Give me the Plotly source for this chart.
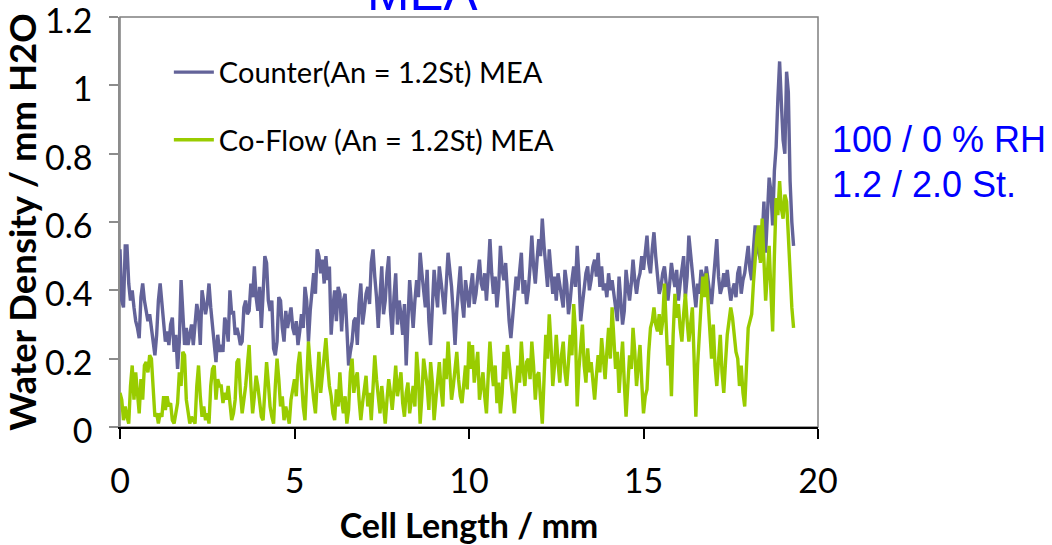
import plotly.graph_objects as go

x_start = 0.0
x_step = 0.05

counter = [
    # 0 - 3.35 mm
    0.52, 0.37, 0.35, 0.53, 0.53, 0.42, 0.37, 0.40, 0.35, 0.31, 0.29, 0.26, 0.38, 0.42, 0.37, 0.34, 0.31,
    0.33, 0.29, 0.25, 0.21, 0.27, 0.37, 0.42, 0.36, 0.29, 0.25, 0.28, 0.24, 0.30, 0.32, 0.22, 0.27, 0.17,
    0.25, 0.43, 0.34, 0.24, 0.29, 0.24, 0.27, 0.30, 0.24, 0.31, 0.36, 0.33, 0.24, 0.40, 0.37, 0.33, 0.36,
    0.42, 0.35, 0.29, 0.25, 0.19, 0.27, 0.22, 0.24, 0.22, 0.32, 0.30, 0.25, 0.40, 0.33, 0.34, 0.27, 0.29,
    # 3.4 - 6.75 mm
    0.27, 0.24, 0.25, 0.35, 0.37, 0.33, 0.34, 0.42, 0.38, 0.47, 0.38, 0.34, 0.41, 0.29, 0.39, 0.50, 0.48,
    0.37, 0.34, 0.37, 0.23, 0.21, 0.25, 0.38, 0.37, 0.29, 0.25, 0.34, 0.29, 0.32, 0.35, 0.29, 0.27, 0.31,
    0.24, 0.28, 0.33, 0.29, 0.41, 0.37, 0.25, 0.34, 0.40, 0.45, 0.39, 0.52, 0.50, 0.45, 0.49, 0.42, 0.50,
    0.43, 0.47, 0.27, 0.35, 0.40, 0.31, 0.41, 0.39, 0.28, 0.37, 0.39, 0.29, 0.18, 0.22, 0.25, 0.31, 0.32,
    # 6.8 - 10.05 mm
    0.24, 0.36, 0.42, 0.30, 0.34, 0.39, 0.41, 0.36, 0.48, 0.52, 0.44, 0.38, 0.29, 0.40, 0.47, 0.33, 0.37,
    0.45, 0.50, 0.34, 0.27, 0.38, 0.45, 0.30, 0.37, 0.33, 0.27, 0.36, 0.18, 0.31, 0.43, 0.36, 0.29, 0.37,
    0.43, 0.38, 0.51, 0.45, 0.40, 0.35, 0.46, 0.31, 0.24, 0.38, 0.46, 0.40, 0.35, 0.47, 0.43, 0.38, 0.33,
    0.44, 0.51, 0.46, 0.41, 0.33, 0.24, 0.34, 0.42, 0.47, 0.37, 0.32, 0.43, 0.38, 0.35, 0.41,
    # 10.1 - 13.45 mm
    0.45, 0.36, 0.39, 0.44, 0.49, 0.42, 0.40, 0.45, 0.37, 0.45, 0.55, 0.45, 0.39, 0.44, 0.35, 0.41, 0.53,
    0.46, 0.43, 0.48, 0.37, 0.31, 0.26, 0.32, 0.37, 0.44, 0.40, 0.46, 0.51, 0.39, 0.43, 0.36, 0.40, 0.47,
    0.56, 0.47, 0.42, 0.49, 0.55, 0.50, 0.61, 0.53, 0.47, 0.41, 0.52, 0.46, 0.39, 0.44, 0.37, 0.45, 0.42,
    0.38, 0.35, 0.46, 0.42, 0.33, 0.37, 0.43, 0.47, 0.41, 0.53, 0.44, 0.31, 0.36, 0.41, 0.45, 0.47, 0.40,
    # 13.5 - 16.75 mm
    0.43, 0.47, 0.49, 0.44, 0.51, 0.41, 0.47, 0.40, 0.42, 0.38, 0.45, 0.40, 0.43, 0.39, 0.35, 0.31, 0.44,
    0.38, 0.30, 0.34, 0.46, 0.41, 0.37, 0.42, 0.49, 0.43, 0.39, 0.43, 0.45, 0.50, 0.46, 0.51, 0.56, 0.48,
    0.45, 0.52, 0.57, 0.50, 0.44, 0.39, 0.41, 0.45, 0.47, 0.42, 0.37, 0.42, 0.48, 0.44, 0.41, 0.46, 0.37,
    0.42, 0.46, 0.50, 0.38, 0.44, 0.56, 0.50, 0.45, 0.40, 0.35, 0.42, 0.39, 0.46, 0.44, 0.41,
    # 16.8 - 19.3 mm
    0.47, 0.42, 0.39, 0.36, 0.43, 0.48, 0.55, 0.44, 0.39, 0.41, 0.45, 0.41, 0.46, 0.41, 0.37, 0.40, 0.42,
    0.38, 0.45, 0.47, 0.39, 0.43, 0.45, 0.49, 0.53, 0.46, 0.43, 0.52, 0.59, 0.55, 0.51, 0.49, 0.55, 0.66,
    0.51, 0.62, 0.73, 0.69, 0.59, 0.75, 0.82, 0.96, 1.07, 0.95, 0.84, 0.80, 1.04, 0.98, 0.72, 0.60, 0.53,
]

coflow = [
    # 0 - 3.35 mm
    0.10, 0.08, 0.02, 0.06, 0.03, 0.01, 0.12, 0.18, 0.08, 0.16, 0.10, 0.04, 0.14, 0.08, 0.18, 0.19, 0.16,
    0.21, 0.20, 0.12, 0.03, 0.04, 0.01, 0.04, 0.03, 0.09, 0.05, 0.09, 0.06, 0.07, 0.02, 0.01, 0.04, 0.07,
    0.16, 0.12, 0.22, 0.21, 0.08, 0.04, 0.01, 0.03, 0.02, 0.01, 0.12, 0.18, 0.09, 0.03, 0.06, 0.02, 0.04,
    0.01, 0.12, 0.17, 0.18, 0.08, 0.14, 0.12, 0.12, 0.07, 0.10, 0.08, 0.12, 0.06, 0.02, 0.04, 0.08, 0.19,
    # 3.4 - 6.75 mm
    0.20, 0.10, 0.04, 0.08, 0.12, 0.18, 0.24, 0.12, 0.04, 0.09, 0.15, 0.12, 0.08, 0.03, 0.02, 0.10, 0.19,
    0.13, 0.06, 0.03, 0.01, 0.12, 0.20, 0.14, 0.06, 0.09, 0.02, 0.06, 0.04, 0.01, 0.08, 0.11, 0.14, 0.09,
    0.18, 0.22, 0.12, 0.06, 0.02, 0.12, 0.25, 0.18, 0.12, 0.08, 0.04, 0.13, 0.22, 0.10, 0.15, 0.20, 0.26,
    0.18, 0.12, 0.09, 0.04, 0.02, 0.11, 0.06, 0.16, 0.08, 0.04, 0.09, 0.01, 0.05, 0.16, 0.20, 0.10, 0.14,
    # 6.8 - 10.05 mm
    0.16, 0.08, 0.02, 0.07, 0.12, 0.15, 0.06, 0.10, 0.02, 0.13, 0.21, 0.14, 0.09, 0.04, 0.12, 0.07, 0.01,
    0.08, 0.14, 0.10, 0.05, 0.11, 0.18, 0.09, 0.12, 0.16, 0.07, 0.03, 0.10, 0.13, 0.04, 0.09, 0.12, 0.06,
    0.22, 0.15, 0.01, 0.09, 0.20, 0.16, 0.12, 0.05, 0.19, 0.13, 0.02, 0.08, 0.14, 0.19, 0.11, 0.06, 0.20,
    0.14, 0.25, 0.16, 0.08, 0.12, 0.17, 0.22, 0.14, 0.09, 0.07, 0.12, 0.18, 0.11, 0.25, 0.17,
    # 10.1 - 13.45 mm
    0.24, 0.13, 0.18, 0.22, 0.08, 0.12, 0.16, 0.09, 0.04, 0.15, 0.25, 0.17, 0.12, 0.18, 0.07, 0.13, 0.04,
    0.10, 0.22, 0.14, 0.24, 0.19, 0.14, 0.08, 0.04, 0.11, 0.18, 0.13, 0.25, 0.17, 0.12, 0.19, 0.20, 0.14,
    0.25, 0.18, 0.08, 0.15, 0.16, 0.08, 0.01, 0.14, 0.27, 0.20, 0.33, 0.24, 0.12, 0.18, 0.27, 0.19, 0.13,
    0.21, 0.25, 0.16, 0.12, 0.19, 0.27, 0.21, 0.36, 0.28, 0.06, 0.17, 0.24, 0.30, 0.18, 0.13, 0.23, 0.16,
    # 13.5 - 16.75 mm
    0.19, 0.12, 0.08, 0.15, 0.21, 0.16, 0.26, 0.20, 0.14, 0.22, 0.29, 0.20, 0.35, 0.26, 0.17, 0.22, 0.10,
    0.18, 0.25, 0.13, 0.03, 0.12, 0.21, 0.17, 0.29, 0.22, 0.12, 0.18, 0.24, 0.13, 0.04, 0.09, 0.11, 0.22,
    0.29, 0.31, 0.35, 0.30, 0.28, 0.33, 0.27, 0.31, 0.42, 0.30, 0.18, 0.24, 0.09, 0.27, 0.39, 0.32, 0.36,
    0.29, 0.25, 0.33, 0.39, 0.31, 0.25, 0.30, 0.35, 0.20, 0.03, 0.18, 0.29, 0.36, 0.44, 0.38,
    # 16.8 - 19.3 mm
    0.45, 0.36, 0.29, 0.20, 0.30, 0.18, 0.12, 0.21, 0.27, 0.16, 0.10, 0.19, 0.27, 0.31, 0.35, 0.32, 0.27,
    0.22, 0.20, 0.12, 0.18, 0.10, 0.06, 0.17, 0.29, 0.31, 0.33, 0.42, 0.49, 0.56, 0.59, 0.48, 0.61, 0.50,
    0.37, 0.45, 0.53, 0.40, 0.28, 0.50, 0.67, 0.62, 0.72, 0.64, 0.61, 0.68, 0.66, 0.56, 0.45, 0.35, 0.29,
]

x_counter = [round(x_start + x_step * i, 3) for i in range(len(counter))]
x_coflow = [round(x_start + x_step * i, 3) for i in range(len(coflow))]

series_names = ["Counter(An = 1.2St) MEA", "Co-Flow (An = 1.2St) MEA"]
x_ticks = [0, 5, 10, 15, 20]
x_ticktext = ["0", "5", "10", "15", "20"]
y_ticks = [0, 0.2, 0.4, 0.6, 0.8, 1.0, 1.2]
y_ticktext = ["0", "0.2", "0.4", "0.6", "0.8", "1", "1.2"]

title_text = "MEA"
note_lines = ["100 / 0 % RH", "1.2 / 2.0 St."]
x_title = "Cell Length / mm"
y_title = "Water Density / mm H2O"

FONT = "Lato, 'Open Sans', sans-serif"
ARIAL = "'Liberation Sans', Arial, sans-serif"
BLUE = "#0000FF"

fig = go.Figure()
fig.add_trace(go.Scatter(x=x_counter, y=counter, mode="lines", name=series_names[0],
                         line=dict(color="#636399", width=3.4), legendgroup="a"))
fig.add_trace(go.Scatter(x=x_coflow, y=coflow, mode="lines", name=series_names[1],
                         line=dict(color="#99CC00", width=3.4), legendgroup="b"))

fig.update_layout(
    width=1052, height=545,
    margin=dict(l=120, r=234, t=17, b=118),
    paper_bgcolor="white", plot_bgcolor="white",
    font=dict(family=FONT, color="black"),
    showlegend=True,
    legend=dict(x=0.070, y=0.9275, xanchor="left", yanchor="top",
                font=dict(family=FONT, size=29, color="black"),
                bgcolor="rgba(0,0,0,0)", tracegroupgap=27, traceorder="grouped",
                itemwidth=40),
    shapes=[dict(type="rect", xref="paper", yref="paper", x0=0, y0=0, x1=1, y1=1,
                 line=dict(color="#7F7F7F", width=1.5), layer="below")],
)

fig.update_xaxes(range=[0, 20], tickvals=x_ticks, ticktext=x_ticktext, automargin=False,
                 ticks="outside", ticklen=10, tickwidth=1.5, tickcolor="black",
                 showline=True, linecolor="black", linewidth=1.5,
                 showgrid=False, zeroline=False, ticklabelstandoff=13,
                 ticklabeloverflow="allow",
                 tickfont=dict(family=FONT, size=34, color="black"),
                 title=dict(text=x_title, standoff=17,
                            font=dict(family=FONT, size=34, color="black", weight="bold")))

fig.update_yaxes(range=[0, 1.2001], tickvals=y_ticks, ticktext=y_ticktext, automargin=False,
                 ticks="outside", ticklen=9, tickwidth=1.5, tickcolor="#8C8C8C",
                 showline=True, linecolor="#8C8C8C", linewidth=1.5,
                 showgrid=False, zeroline=False, ticklabelstandoff=10,
                 ticklabelshift=4, ticklabeloverflow="allow",
                 tickfont=dict(family=FONT, size=34, color="black"),
                 title=dict(text=y_title, standoff=0,
                            font=dict(family=FONT, size=36.5, color="black", weight="bold")))

fig.add_annotation(text=title_text, xref="paper", yref="paper", x=0.433, y=0.986,
                   xanchor="center", yanchor="bottom", showarrow=False,
                   font=dict(family=ARIAL, size=51, color=BLUE))
fig.add_annotation(text=note_lines[0], xref="paper", yref="paper", x=1.017, y=0.701,
                   xanchor="left", yanchor="middle", showarrow=False,
                   font=dict(family=ARIAL, size=36, color=BLUE))
fig.add_annotation(text=note_lines[1], xref="paper", yref="paper", x=1.017, y=0.591,
                   xanchor="left", yanchor="middle", showarrow=False,
                   font=dict(family=ARIAL, size=36, color=BLUE))

fig.write_html("out.html", config={"displayModeBar": False},
               post_script="document.body.style.margin='0px';")
